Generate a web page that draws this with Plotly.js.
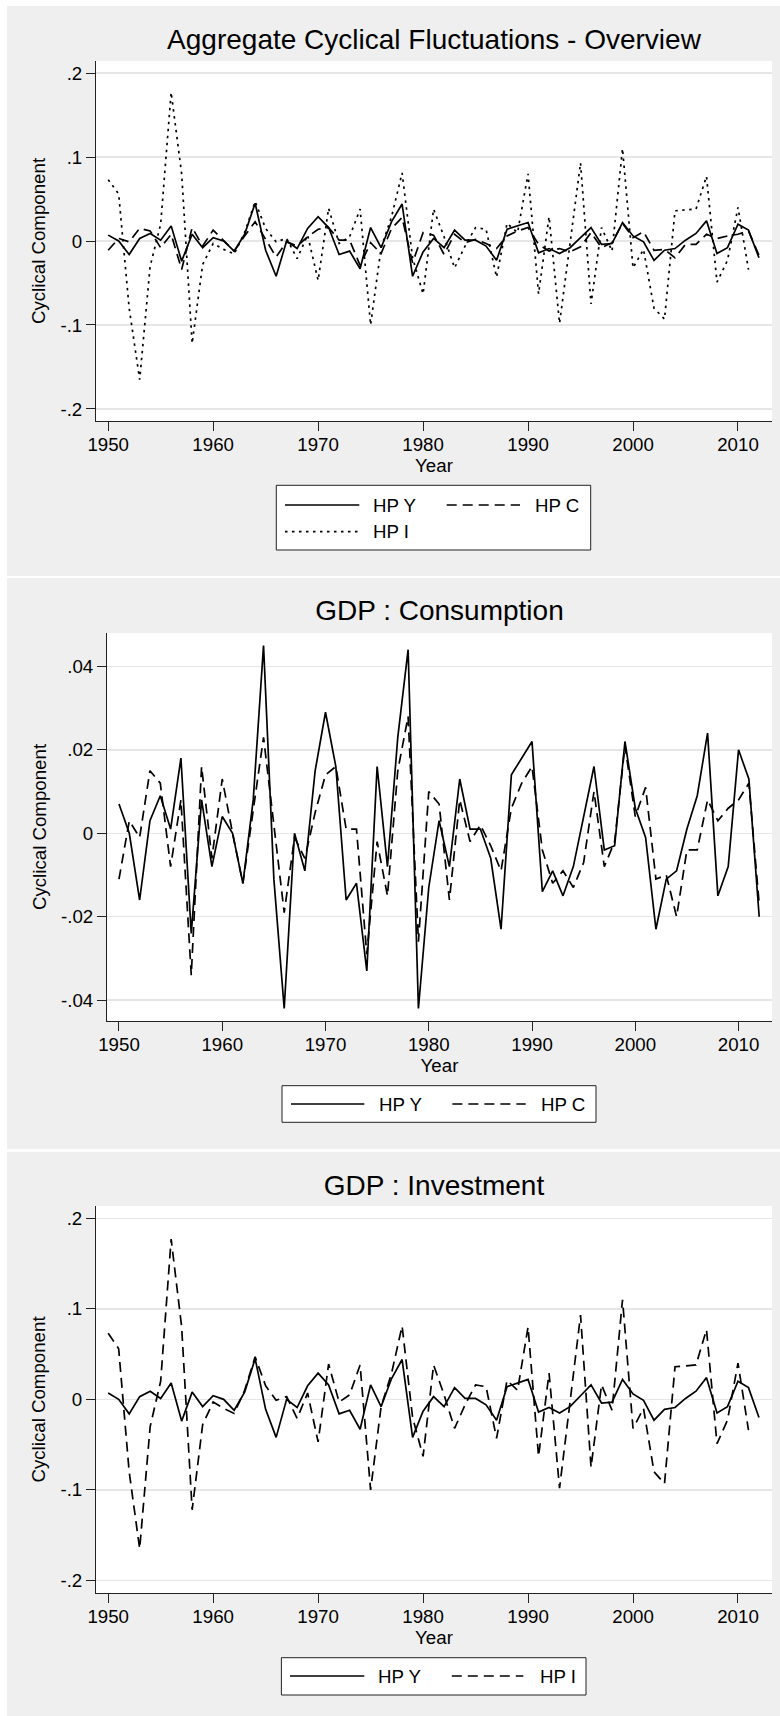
<!DOCTYPE html>
<html>
<head>
<meta charset="utf-8">
<script src="https://cdn.plot.ly/plotly-3.0.1.min.js"></script>
<style>
  html, body { margin: 0; padding: 0; background: #ffffff; }
  .panel { position: absolute; left: 7px; width: 773px; }
  #p1 { top: 6px; height: 570px; }
  #p2 { top: 578px; height: 571px; }
  #p3 { top: 1152px; height: 564px; }
</style>
</head>
<body>
<div id="p1" class="panel"></div>
<div id="p2" class="panel"></div>
<div id="p3" class="panel"></div>
<script>
// ---------------- DATA ----------------
const years = [1950,1951,1952,1953,1954,1955,1956,1957,1958,1959,
               1960,1961,1962,1963,1964,1965,1966,1967,1968,1969,
               1970,1971,1972,1973,1974,1975,1976,1977,1978,1979,
               1980,1981,1982,1983,1984,1985,1986,1987,1988,1989,
               1990,1991,1992,1993,1994,1995,1996,1997,1998,1999,
               2000,2001,2002,2003,2004,2005,2006,2007,2008,2009,
               2010,2011,2012];

// HP-filtered cyclical component of GDP (Y)
const hpY = [0.007, 0.000, -0.016, 0.003, 0.009, 0.001, 0.018, -0.024, 0.008, -0.008,
             0.004, 0.000, -0.012, 0.008, 0.045, -0.011, -0.042, 0.000, -0.009, 0.015,
             0.029, 0.016, -0.016, -0.012, -0.033, 0.016, -0.008, 0.023, 0.044, -0.042,
             -0.013, 0.003, -0.008, 0.013, 0.001, 0.001, -0.006, -0.023, 0.014, 0.018,
             0.022, -0.014, -0.009, -0.015, -0.008, 0.004, 0.016, -0.004, -0.003, 0.022,
             0.006, -0.001, -0.023, -0.011, -0.009, 0.001, 0.009, 0.024, -0.015, -0.008,
             0.020, 0.013, -0.020];

// HP-filtered cyclical component of Consumption (C)
const hpC = [-0.011, 0.003, -0.001, 0.015, 0.012, -0.008, 0.008, -0.034, 0.016, -0.006,
             0.013, 0.000, -0.012, 0.006, 0.023, 0.002, -0.019, -0.001, -0.006, 0.005,
             0.014, 0.016, 0.001, 0.001, -0.029, -0.002, -0.015, 0.015, 0.028, -0.026,
             0.010, 0.007, -0.016, 0.008, -0.002, 0.002, -0.003, -0.009, 0.006, 0.012,
             0.016, -0.004, -0.012, -0.009, -0.013, -0.007, 0.010, -0.008, -0.002, 0.021,
             0.004, 0.011, -0.011, -0.010, -0.020, -0.004, -0.004, 0.008, 0.003, 0.006,
             0.008, 0.012, -0.017];

// HP-filtered cyclical component of Investment (I), 1950-2011
const hpI = [0.073, 0.056, -0.080, -0.165, -0.030, 0.020, 0.177, 0.080, -0.122, -0.028,
             -0.003, -0.010, -0.0155, 0.010, 0.047, 0.015, -0.001, 0.003, -0.021, 0.007,
             -0.047, 0.039, -0.003, 0.005, 0.038, -0.100, -0.008, 0.029, 0.081, -0.020,
             -0.063, 0.038, 0.005, -0.032, -0.006, 0.016, 0.014, -0.043, 0.021, 0.010,
             0.080, -0.063, 0.029, -0.098, -0.003, 0.093, -0.075, 0.016, -0.012, 0.110,
             -0.032, -0.010, -0.080, -0.093, 0.036, 0.037, 0.038, 0.077, -0.049, -0.023,
             0.040, -0.034];

const seriesNames = ['HP Y', 'HP C', 'HP I'];
const panelTitles = ['Aggregate Cyclical Fluctuations - Overview', 'GDP : Consumption', 'GDP : Investment'];
const xTitle = 'Year';
const yTitle = 'Cyclical Component';
const xTickVals = [1950, 1960, 1970, 1980, 1990, 2000, 2010];
const yTickValsWide = [-0.2, -0.1, 0, 0.1, 0.2];
const yTickTextWide = ['-.2', '-.1', '0', '.1', '.2'];
const yTickValsNarrow = [-0.04, -0.02, 0, 0.02, 0.04];
const yTickTextNarrow = ['-.04', '-.02', '0', '.02', '.04'];

// ---------------- STYLE ----------------
const FONT = 'Liberation Sans, Arial, Helvetica, sans-serif';
const TXT = 18.7;
const DASH = '10px,6px';
const DOT = '2.5px,4.5px';
const LW = 1.7;

function baseLayout(o) {
  return {
    width: 773, height: o.H,
    margin: { l: o.l, r: o.r, t: o.t, b: o.b, pad: 0 },
    paper_bgcolor: '#efefef',
    plot_bgcolor: '#ffffff',
    font: { family: FONT, size: TXT, color: '#000' },
    showlegend: false,
    title: {
      text: o.title, font: { family: FONT, size: 28, color: '#000' },
      x: 0.5, xref: 'paper', xanchor: 'center',
      y: 1 - o.titleY / o.H, yref: 'container', yanchor: 'middle'
    },
    xaxis: {
      range: [1948.84, 2013.24], tickvals: xTickVals, ticktext: xTickVals.map(String),
      ticks: 'outside', ticklen: 9, tickwidth: 1, tickcolor: '#222',
      ticklabelstandoff: -2,
      showline: true, linecolor: '#222', linewidth: 1,
      showgrid: false, zeroline: false,
      tickfont: { family: FONT, size: TXT, color: '#000' },
      title: { text: xTitle, font: { family: FONT, size: TXT, color: '#000' }, standoff: 0 }
    },
    yaxis: {
      range: o.yr, tickvals: o.tv, ticktext: o.tt,
      ticks: 'outside', ticklen: 9, tickwidth: 1, tickcolor: '#222',
      showline: true, linecolor: '#222', linewidth: 1,
      showgrid: true, gridcolor: '#e6e6e6', gridwidth: 1.5, zeroline: false,
      tickfont: { family: FONT, size: TXT, color: '#000' },
      title: { text: yTitle, font: { family: FONT, size: TXT, color: '#000' }, standoff: 9 }
    },
    shapes: [], annotations: []
  };
}

// custom Stata-like legend, positions in pixels of the panel
function addLegend(layout, o, box, items) {
  const W = 773 - o.l - o.r, Hh = o.H - o.t - o.b;
  const px = x => (x - o.l) / W;
  const py = y => 1 - (y - o.t) / Hh;
  layout.shapes.push({ type: 'rect', xref: 'paper', yref: 'paper',
    x0: px(box[0]), x1: px(box[1]), y0: py(box[2]), y1: py(box[3]),
    line: { color: '#222', width: 1 }, fillcolor: '#ffffff', layer: 'above' });
  items.forEach(it => {
    layout.shapes.push({ type: 'line', xref: 'paper', yref: 'paper',
      x0: px(it.s0), x1: px(it.s1), y0: py(it.y), y1: py(it.y),
      line: { color: '#000', width: LW, dash: it.dash }, layer: 'above' });
    layout.annotations.push({ xref: 'paper', yref: 'paper', x: px(it.tx), y: py(it.y),
      xanchor: 'left', yanchor: 'middle', showarrow: false, text: it.name,
      font: { family: FONT, size: TXT, color: '#000' } });
  });
}

function tr(x, y, name, dash) {
  return { type: 'scatter', mode: 'lines', x: x, y: y, name: name,
           line: { color: '#000', width: LW, dash: dash } };
}

const cfg = { staticPlot: true, displayModeBar: false };
const yearsI = years.slice(0, hpI.length);

// Panel 1
const o1 = { H: 570, l: 89, r: 8, t: 55, b: 155, title: panelTitles[0], titleY: 33,
             yr: [-0.2143, 0.2143], tv: yTickValsWide, tt: yTickTextWide };
const L1 = baseLayout(o1);
addLegend(L1, o1, [269.3, 583.7, 479.3, 544], [
  { name: seriesNames[0], dash: 'solid', s0: 278, s1: 352.3, tx: 363.7, y: 499 },
  { name: seriesNames[1], dash: DASH, s0: 439.7, s1: 513, tx: 526.3, y: 499 },
  { name: seriesNames[2], dash: DOT, s0: 278, s1: 352.3, tx: 363.7, y: 525.7 }
]);
Plotly.newPlot('p1', [
  tr(years, hpY, seriesNames[0], 'solid'),
  tr(years, hpC, seriesNames[1], DASH),
  tr(yearsI, hpI, seriesNames[2], DOT)
], L1, cfg);

// Panel 2
const o2 = { H: 571, l: 100, r: 8, t: 55, b: 128, title: panelTitles[1], titleY: 32.5,
             yr: [-0.045, 0.048], tv: yTickValsNarrow, tt: yTickTextNarrow };
const L2 = baseLayout(o2);
addLegend(L2, o2, [275, 589, 507.7, 544.3], [
  { name: seriesNames[0], dash: 'solid', s0: 284, s1: 357.3, tx: 369.7, y: 526 },
  { name: seriesNames[1], dash: DASH, s0: 445.4, s1: 518.7, tx: 532, y: 526 }
]);
Plotly.newPlot('p2', [
  tr(years, hpY, seriesNames[0], 'solid'),
  tr(years, hpC, seriesNames[1], DASH)
], L2, cfg);

// Panel 3
const o3 = { H: 564, l: 89, r: 8, t: 54, b: 123, title: panelTitles[2], titleY: 32.7,
             yr: [-0.2139, 0.2136], tv: yTickValsWide, tt: yTickTextWide };
const L3 = baseLayout(o3);
addLegend(L3, o3, [274.4, 579, 505.7, 543], [
  { name: seriesNames[0], dash: 'solid', s0: 283, s1: 357.3, tx: 368.8, y: 524 },
  { name: seriesNames[2], dash: DASH, s0: 444.8, s1: 516.3, tx: 531, y: 524 }
]);
Plotly.newPlot('p3', [
  tr(years, hpY, seriesNames[0], 'solid'),
  tr(yearsI, hpI, seriesNames[2], DASH)
], L3, cfg);
</script>
</body>
</html>
